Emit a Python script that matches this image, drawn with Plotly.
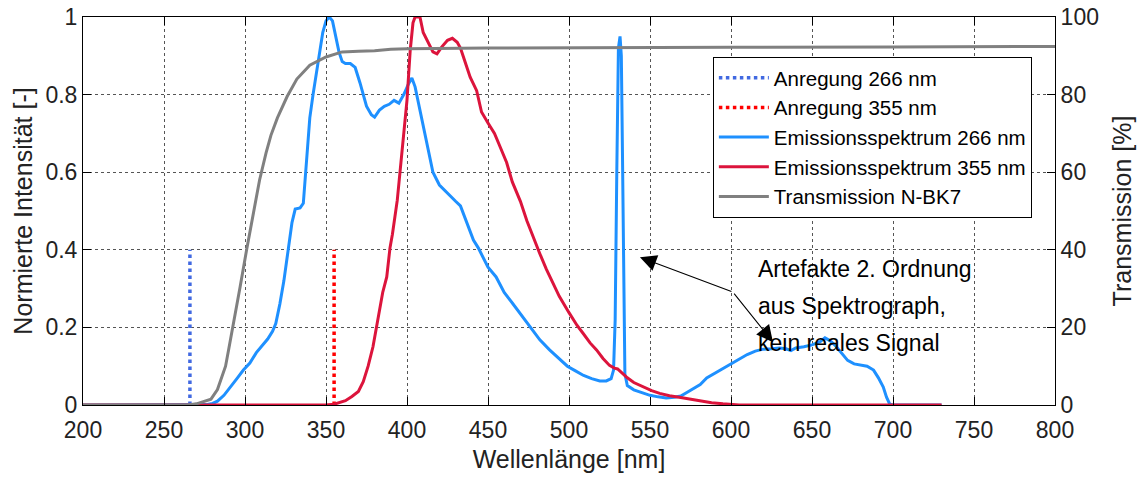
import plotly.graph_objects as go

# ---------------- data ----------------
# Excitation lines (wavelength, normalized height)
exc266_wl = [266, 266]
exc266_val = [0, 0.4]
exc355_wl = [355, 355]
exc355_val = [0, 0.4]

# Emission spectrum for 266 nm excitation
em266_wl = [200, 270, 276, 280, 283, 287, 291, 295, 299, 303, 307, 311, 314, 317, 319, 321.5, 324, 326,
            329, 331, 334, 336, 338, 340, 342, 344, 346, 348, 350, 352, 354, 356, 358, 360, 362, 365,
            368, 371, 373, 375, 378, 380, 383, 386, 389, 392, 395, 398, 401, 403, 405, 408, 411, 414,
            416, 420, 425, 430, 433, 437, 441, 444, 447, 450, 455, 460, 465, 470, 476, 482, 488, 494,
            499, 504, 509, 514, 519, 523, 526, 527.5, 528.5, 529.5, 530.5, 531.5, 532.3, 533, 533.7,
            534.5, 536, 540, 545, 550, 555, 560, 565, 569, 573, 577, 581, 585, 590, 595, 600, 605, 610,
            615, 620, 625, 630, 634, 637, 640, 645, 650, 655, 658, 661, 664, 668, 672, 676, 680, 684,
            688, 691, 694, 696, 698, 700, 730]
em266_val = [0, 0, 0.001, 0.004, 0.01, 0.025, 0.048, 0.068, 0.09, 0.108, 0.135, 0.155, 0.17, 0.19, 0.21,
             0.26, 0.32, 0.38, 0.47, 0.505, 0.508, 0.52, 0.62, 0.74, 0.8, 0.855, 0.91, 0.96, 0.99, 1.0,
             0.99, 0.95, 0.91, 0.885, 0.88, 0.88, 0.87, 0.83, 0.8, 0.77, 0.748, 0.742, 0.76, 0.77, 0.775,
             0.785, 0.778, 0.8, 0.828, 0.843, 0.82, 0.76, 0.70, 0.64, 0.60, 0.567, 0.545, 0.525, 0.513,
             0.47, 0.425, 0.405, 0.38, 0.355, 0.33, 0.29, 0.263, 0.235, 0.20, 0.168, 0.142, 0.12, 0.10,
             0.088, 0.076, 0.068, 0.062, 0.062, 0.068, 0.09, 0.22, 0.6, 0.92, 0.95, 0.9, 0.65, 0.3, 0.08,
             0.05, 0.039, 0.032, 0.025, 0.021, 0.018, 0.02, 0.023, 0.033, 0.043, 0.053, 0.07, 0.082,
             0.094, 0.105, 0.117, 0.13, 0.139, 0.144, 0.145, 0.147, 0.145, 0.14, 0.147, 0.15, 0.155,
             0.163, 0.173, 0.166, 0.155, 0.135, 0.115, 0.106, 0.103, 0.10, 0.09, 0.07, 0.046, 0.02,
             0.002, 0, 0]

# Emission spectrum for 355 nm excitation
em355_wl = [200, 350, 355, 358, 362, 366, 370, 373, 376, 379, 381, 383, 385, 387.5, 389.5, 391, 394,
            397, 400, 402, 403.7, 405, 408, 410, 413, 416, 418.5, 421.5, 425, 428, 431, 433, 435, 439,
            443, 446, 450, 454, 457, 461.5, 465, 470, 474, 478, 482, 486, 490, 494, 500, 505, 509, 513,
            517, 521, 525, 528, 530, 533, 536, 540, 546, 551, 556, 562, 568, 575, 581, 588, 595, 600,
            605, 730]
em355_val = [0, 0, 0.002, 0.006, 0.011, 0.022, 0.035, 0.06, 0.1, 0.15, 0.2, 0.245, 0.29, 0.33, 0.405,
             0.44, 0.528, 0.657, 0.786, 0.915, 0.985, 1.0, 1.0, 0.96, 0.933, 0.91, 0.905, 0.923, 0.94,
             0.945, 0.935, 0.92, 0.895, 0.845, 0.81, 0.755, 0.727, 0.70, 0.67, 0.625, 0.575, 0.525,
             0.475, 0.43, 0.39, 0.35, 0.315, 0.28, 0.238, 0.205, 0.183, 0.16, 0.142, 0.12, 0.102, 0.095,
             0.093, 0.082, 0.07, 0.058, 0.046, 0.037, 0.03, 0.024, 0.02, 0.015, 0.01, 0.006, 0.003,
             0.001, 0, 0]

# Transmission N-BK7 [%]
trans_wl = [200, 265, 270, 275, 279, 283, 286, 288, 290, 293, 297, 301, 305, 309, 313, 316, 320, 326,
            332, 340, 350, 360, 370, 380, 390, 400, 450, 500, 600, 700, 800]
trans_val = [0, 0, 0.3, 0.9, 1.5, 4, 7.5, 10, 14.5, 21, 30.5, 40, 48.5, 58, 65, 69.5, 74, 79.5, 84,
             87.6, 89.7, 91, 91.2, 91.3, 91.7, 91.8, 92, 92.1, 92.2, 92.3, 92.4]

x_ticks = [200, 250, 300, 350, 400, 450, 500, 550, 600, 650, 700, 750, 800]
y_ticks = [0, 0.2, 0.4, 0.6, 0.8, 1]
y2_ticks = [0, 20, 40, 60, 80, 100]

annot_lines = ["Artefakte 2. Ordnung", "aus Spektrograph,", "kein reales Signal"]

# ---------------- figure ----------------
FONT = "Liberation Sans, Arial, sans-serif"
fig = go.Figure()

fig.add_trace(go.Scatter(x=exc266_wl, y=exc266_val, mode="lines", name="Anregung 266 nm",
                         line=dict(color="#4169E1", width=3.5, dash="dot")))
fig.add_trace(go.Scatter(x=exc355_wl, y=exc355_val, mode="lines", name="Anregung 355 nm",
                         line=dict(color="#FF0000", width=3.5, dash="dot")))
fig.add_trace(go.Scatter(x=em266_wl, y=em266_val, mode="lines", name="Emissionsspektrum 266 nm",
                         line=dict(color="#1E90FF", width=3)))
fig.add_trace(go.Scatter(x=em355_wl, y=em355_val, mode="lines", name="Emissionsspektrum 355 nm",
                         line=dict(color="#DC143C", width=3)))
fig.add_trace(go.Scatter(x=trans_wl, y=trans_val, mode="lines", name="Transmission N-BK7",
                         line=dict(color="#808080", width=3), yaxis="y2"))

# annotation text lines
for i, t in enumerate(annot_lines):
    fig.add_annotation(x=615.4, y=0.35 - i * 0.0955, xref="x", yref="y", text=t, showarrow=False,
                       xanchor="left", yanchor="middle", font=dict(family=FONT, size=23, color="#000"))

# arrows (shared tail)
tail_x, tail_y = 601.2, 0.291
for hx, hy in [(543.8, 0.381), (625.9, 0.162)]:
    fig.add_annotation(x=hx, y=hy, xref="x", yref="y", ax=tail_x, ay=tail_y, axref="x", ayref="y",
                       text="", showarrow=True, arrowhead=2, arrowsize=3, arrowwidth=1.1,
                       arrowcolor="#000")

axis_common = dict(
    showline=True, linecolor="#000", linewidth=1,
    ticks="inside", ticklen=8, tickcolor="#000", tickwidth=1,
    showgrid=True, gridcolor="#555", gridwidth=1, griddash="dot",
    zeroline=False, automargin=False,
    tickfont=dict(family=FONT, size=23, color="#222"),
)

fig.update_layout(
    width=1143, height=479,
    margin=dict(l=83, r=88, t=17, b=74),
    paper_bgcolor="white", plot_bgcolor="white",
    font=dict(family=FONT, color="#222"),
    showlegend=True,
    legend=dict(x=0.648, y=0.897, xanchor="left", yanchor="top",
                bgcolor="white", bordercolor="#000", borderwidth=1,
                font=dict(family=FONT, size=20.5, color="#000"),
                tracegroupgap=0, itemwidth=50),
    xaxis=dict(range=[200, 800], tickvals=x_ticks, mirror="ticks", ticklabelstandoff=4,
               title=dict(text="Wellenlänge [nm]", font=dict(family=FONT, size=25, color="#222"),
                          standoff=8),
               **axis_common),
    yaxis=dict(range=[0, 1], tickvals=y_ticks,
               title=dict(text="Normierte Intensität [-]", font=dict(family=FONT, size=25, color="#222"),
                          standoff=5),
               **axis_common),
    yaxis2=dict(range=[0, 100], tickvals=y2_ticks, overlaying="y", side="right",
                showline=True, linecolor="#000", linewidth=1,
                ticks="inside", ticklen=8, tickcolor="#000", tickwidth=1,
                showgrid=False, zeroline=False, automargin=False,
                tickfont=dict(family=FONT, size=23, color="#222"),
                title=dict(text="Transmission [%]", font=dict(family=FONT, size=25, color="#222"),
                           standoff=15)),
)

fig.write_html("out.html", config={"displayModeBar": False},
               post_script="document.body.style.margin='0';document.body.style.overflow='hidden';")
